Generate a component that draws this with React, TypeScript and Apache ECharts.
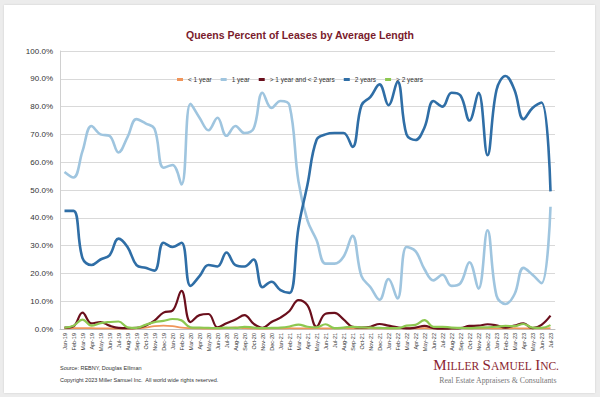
import React, { useEffect, useRef } from "react";
import * as echarts from "echarts";

const months: string[] = [
  "Jan-19","Feb-19","Mar-19","Apr-19","May-19","Jun-19","Jul-19","Aug-19","Sep-19","Oct-19","Nov-19","Dec-19",
  "Jan-20","Feb-20","Mar-20","Apr-20","May-20","Jun-20","Jul-20","Aug-20","Sep-20","Oct-20","Nov-20","Dec-20",
  "Jan-21","Feb-21","Mar-21","Apr-21","May-21","Jun-21","Jul-21","Aug-21","Sep-21","Oct-21","Nov-21","Dec-21",
  "Jan-22","Feb-22","Mar-22","Apr-22","May-22","Jun-22","Jul-22","Aug-22","Sep-22","Oct-22","Nov-22","Dec-22",
  "Jan-23","Feb-23","Mar-23","Apr-23","May-23","Jun-23","Jul-23",
];

const lessThanOneYear: number[] = [
  0.2, 0.3, 0.3, 0.3, 0.2, 0.2, 0.1, 0.1, 0.2, 0.5, 1.0, 1.2,
  1.0, 0.5, 0.3, 0.2, 0.1, 0.2, 0.3, 0.6, 0.3, 0.2, 0.1, 0.2,
  0.2, 0.3, 0.2, 0.2, 0.3, 0.2, 0.2, 0.3, 0.2, 0.2, 0.3, 0.2,
  0.2, 0.2, 0.3, 0.2, 0.3, 0.2, 0.2, 0.2, 0.3, 0.2, 0.2, 0.3,
  0.2, 0.2, 0.3, 0.2, 0.2, 0.2, 0.3,
];

const oneYear: number[] = [
  56.5, 54.5, 64, 73, 70, 69.5, 63.5, 69, 75.5, 74, 72, 58,
  59, 52, 81, 76, 71.5, 76, 69.5, 73, 70.5, 72, 85, 79.5,
  82, 80.5, 53, 39, 32, 23.5, 23.5, 26, 33.5, 19, 15, 10.5,
  18, 11, 29.5, 28, 21.5, 17.5, 19.5, 15.5, 16.5, 24, 14.5, 35.5,
  12, 9, 12.5, 22, 19.5, 16.5, 44,
];

const oneToTwoYears: number[] = [
  0.5, 1, 5.9, 2, 2.5, 1.2, 0.4, 0.3, 0.4, 1.2, 3, 5.9,
  6.6, 13.7, 2.5, 5, 5.4, 0.6, 2.1, 3.4, 5, 1.9, 0.4, 2.5,
  4.1, 6.5, 10.4, 8.5, 0.8, 5.5, 5.8, 3.5, 0.8, 0.5, 0.8, 1.8,
  1.2, 0.6, 0.2, 0.5, 1.1, 0.3, 0.1, 0.2, 0.3, 1.1, 1.2, 1.7,
  1.3, 0.5, 1.2, 2, 0.3, 1.5, 4.8,
];

const twoYears: number[] = [
  42.5, 42.5, 25.5, 23, 25, 26.5, 32.5, 29.5, 23, 22, 21, 31,
  29.5, 31, 15.5, 19, 23, 22.5, 27.5, 23, 22.5, 25, 15, 17,
  14, 13, 36.5, 52, 68, 70, 70.5, 70.5, 65.5, 80.5, 83.5, 88,
  80.5, 89, 70, 68, 72.5, 82, 80, 85, 84, 75, 85, 62.5,
  86, 91, 86, 75.5, 79.5, 81.5, 49.5,
];

const overTwoYears: number[] = [
  0.5, 1.2, 3.4, 1.2, 2.1, 2.5, 2.7, 0.6, 0.4, 1.5, 2.5, 2.9,
  3.6, 3.1, 0.6, 0.5, 0.4, 0.3, 0.5, 0.4, 0.8, 0.5, 0.3, 0.4,
  0.5, 0.9, 1.6, 0.8, 0.6, 1.7, 0.3, 0.5, 0.8, 0.6, 0.5, 0.4,
  0.3, 0.3, 1.2, 1.5, 3.2, 0.8, 0.8, 0.5, 0.4, 0.3, 0.5, 0.6,
  0.8, 1.1, 1.0, 1.8, 0.5, 0.4, 1.4,
];

const seriesNames: string[] = ["< 1 year", "1 year", "> 1 year and < 2 years", "2 years", "> 2 years"];
const seriesColors: string[] = ["#f0955a", "#9fc5df", "#6a0f1c", "#2f6ea6", "#8dc850"];
const seriesWidths: number[] = [1.8, 2.6, 2.2, 2.6, 2.2];
const seriesData: number[][] = [lessThanOneYear, oneYear, oneToTwoYears, twoYears, overTwoYears];

export default function App() {
  const ref = useRef<HTMLDivElement>(null);
  useEffect(() => {
    if (!ref.current) return;
    const chart = echarts.init(ref.current, undefined, { renderer: "svg" });
    chart.setOption({
      animation: false,
      title: {
        text: "Queens Percent of Leases by Average Length",
        left: "center",
        top: 24,
        textStyle: { fontFamily: "Liberation Sans, Arial, sans-serif", fontSize: 10.5, fontWeight: "bold", color: "#7a1b2c" },
      },
      legend: {
        top: 71,
        left: "center",
        icon: "rect",
        itemWidth: 6,
        itemHeight: 3,
        itemGap: 9,
        textStyle: { fontFamily: "Liberation Sans, Arial, sans-serif", fontSize: 6.5, color: "#333" },
        data: seriesNames,
      },
      grid: { left: 60, right: 45, top: 51, bottom: 68, containLabel: false },
      xAxis: {
        type: "category",
        data: months,
        boundaryGap: true,
        axisLine: { lineStyle: { color: "#bfbfbf", width: 1 } },
        axisTick: { show: false },
        axisLabel: {
          interval: 0,
          rotate: 90,
          fontSize: 5.5,
          margin: 4,
          color: "#333",
          fontFamily: "Liberation Sans, Arial, sans-serif",
        },
      },
      yAxis: {
        type: "value",
        min: 0,
        max: 100,
        interval: 10,
        axisLine: { show: true, lineStyle: { color: "#d0d0d0" } },
        axisTick: { show: false },
        splitLine: { lineStyle: { color: "#d9d9d9", width: 1 } },
        axisLabel: {
          formatter: (v: number) => v.toFixed(1) + "%",
          fontSize: 8,
          margin: 7,
          color: "#333",
          fontFamily: "Liberation Sans, Arial, sans-serif",
        },
      },
      series: seriesNames.map((name, i) => ({
        name,
        type: "line",
        data: seriesData[i],
        smooth: 0.4,
        symbol: "none",
        lineStyle: { color: seriesColors[i], width: seriesWidths[i] },
        itemStyle: { color: seriesColors[i] },
      })),
      graphic: [
        {
          type: "text",
          left: 60,
          top: 365,
          style: { text: "Source: REBNY, Douglas Elliman", fontSize: 5.5, fill: "#333", fontFamily: "Liberation Sans, Arial, sans-serif" },
        },
        {
          type: "text",
          left: 60,
          top: 377,
          style: { text: "Copyright 2023 Miller Samuel Inc.  All world wide rights reserved.", fontSize: 5.5, fill: "#333", fontFamily: "Liberation Sans, Arial, sans-serif" },
        },
        {
          type: "text",
          right: 41,
          top: 357,
          style: {
            text: "{a|M}{b|ILLER} {a|S}{b|AMUEL} {a|I}{b|NC.}",
            rich: {
              a: { fontSize: 15, fontFamily: "Liberation Serif, DejaVu Serif, serif", fill: "#8a1e30", verticalAlign: "bottom" },
              b: { fontSize: 11.5, fontFamily: "Liberation Serif, DejaVu Serif, serif", fill: "#8a1e30", verticalAlign: "bottom" },
            },
          },
        },
        {
          type: "text",
          right: 43,
          top: 376,
          style: { text: "Real Estate Appraisers & Consultants", fontSize: 7.8, fill: "#777", fontFamily: "Liberation Serif, DejaVu Serif, serif" },
        },
      ],
    });
    return () => chart.dispose();
  }, []);
  return (
    <div style={{ position: "absolute", left: 0, top: 0, width: 600, height: 397, background: "#ececec", overflow: "hidden" }}>
      <div style={{ position: "absolute", left: 4, top: 5, width: 591, height: 388, background: "#ffffff", boxShadow: "0 0 2px rgba(0,0,0,0.12)" }} />
      <div ref={ref} style={{ position: "absolute", left: 0, top: 0, width: 600, height: 397 }} />
    </div>
  );
}
